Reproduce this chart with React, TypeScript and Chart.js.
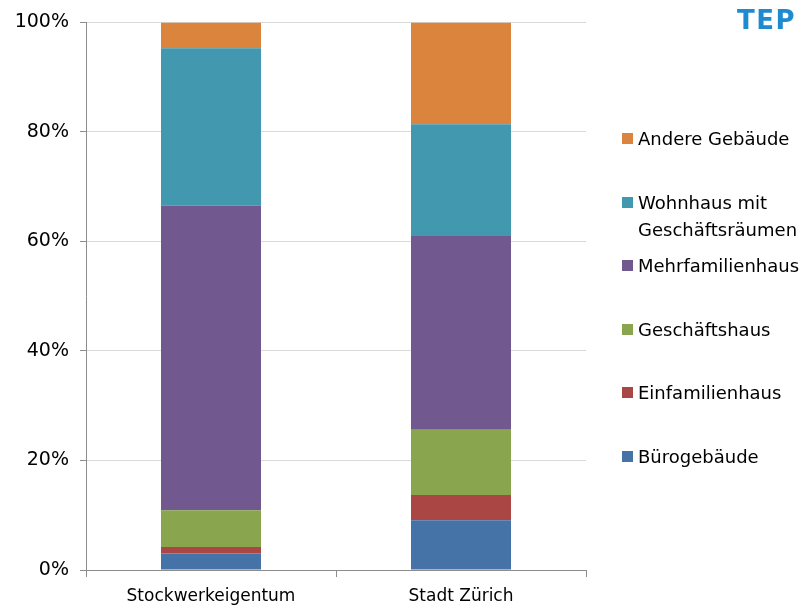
import { useEffect, useRef } from 'react';
import { Chart, registerables } from 'chart.js';

Chart.register(...registerables);

// Share of building types (percent of each column)
const categories = ['Stockwerkeigentum', 'Stadt Zürich'];
const seriesNames = [
  'Bürogebäude',
  'Einfamilienhaus',
  'Geschäftshaus',
  'Mehrfamilienhaus',
  'Wohnhaus mit Geschäftsräumen',
  'Andere Gebäude',
];
const buerogebaeude = [3.0, 9.1];
const einfamilienhaus = [1.2, 4.6];
const geschaeftshaus = [6.7, 11.9];
const mehrfamilienhaus = [55.6, 35.4];
const wohnhausMitGeschaeftsraeumen = [28.8, 20.4];
const andereGebaeude = [4.7, 18.6];
const yTickValues = [0, 20, 40, 60, 80, 100];

const seriesColors = ['#4572A7', '#AA4643', '#89A54E', '#71588F', '#4198AF', '#DB843D'];
const legendLines: string[][] = [
  ['Bürogebäude'],
  ['Einfamilienhaus'],
  ['Geschäftshaus'],
  ['Mehrfamilienhaus'],
  ['Wohnhaus mit', 'Geschäftsräumen'],
  ['Andere Gebäude'],
];

const FONT = '"DejaVu Sans", sans-serif';

export default function App() {
  const canvasRef = useRef<HTMLCanvasElement | null>(null);

  useEffect(() => {
    const canvas = canvasRef.current;
    if (!canvas) return;
    const values = [
      buerogebaeude,
      einfamilienhaus,
      geschaeftshaus,
      mehrfamilienhaus,
      wohnhausMitGeschaeftsraeumen,
      andereGebaeude,
    ];
    const chart = new Chart(canvas, {
      type: 'bar',
      data: {
        labels: categories,
        datasets: values.map((v, i) => ({
          label: seriesNames[i],
          data: v,
          backgroundColor: seriesColors[i],
          borderWidth: 0,
          barPercentage: 0.4,
          categoryPercentage: 1,
        })),
      },
      options: {
        responsive: false,
        animation: false,
        layout: { padding: { left: 0, right: 216, top: 21, bottom: 0 } },
        plugins: {
          legend: { display: false },
          tooltip: { enabled: false },
        },
        scales: {
          x: {
            stacked: true,
            offset: true,
            grid: {
              offset: true,
              drawOnChartArea: false,
              drawTicks: true,
              tickLength: 7,
              color: '#8c8c8c',
            },
            border: { color: '#8c8c8c', width: 1 },
            ticks: {
              color: '#000',
              font: { family: FONT, size: 17 },
              padding: 9,
            },
            afterFit: (s: any) => {
              s.height = 40;
            },
          },
          y: {
            stacked: true,
            min: 0,
            max: 100,
            afterBuildTicks: (s: any) => {
              s.ticks = yTickValues.map((v) => ({ value: v }));
            },
            grid: {
              color: '#d9d9d9',
              tickColor: '#8c8c8c',
              tickLength: 6,
            },
            border: { color: '#8c8c8c', width: 1 },
            ticks: {
              color: '#000',
              font: { family: FONT, size: 19 },
              padding: 11,
              callback: (v: any) => `${v}%`,
            },
            afterFit: (s: any) => {
              s.width = 86;
            },
          },
        },
      },
    });
    return () => chart.destroy();
  }, []);

  const legendItems = legendLines.map((lines, i) => ({ lines, color: seriesColors[i] })).reverse();

  return (
    <div style={{ position: 'fixed', left: 0, top: 0, width: 802, height: 610, background: '#fff' }}>
      <canvas ref={canvasRef} width={802} height={610} style={{ display: 'block' }} />
      <div
        style={{
          position: 'absolute',
          left: 737,
          top: 5,
          fontFamily: FONT,
          fontWeight: 'bold',
          fontSize: 26,
          color: '#1E8BD0',
          letterSpacing: 1.5,
        }}
      >
        TEP
      </div>
      {legendItems.map((item, i) => (
        <div
          key={i}
          style={{
            position: 'absolute',
            left: 622,
            top: 138 + i * 63.6 - 13,
            fontFamily: FONT,
            fontSize: 18,
            lineHeight: '27px',
            color: '#000',
          }}
        >
          <span
            style={{
              position: 'absolute',
              left: 0,
              top: 8,
              width: 11,
              height: 11,
              background: item.color,
            }}
          />
          <div style={{ marginLeft: 16, whiteSpace: 'nowrap' }}>
            {item.lines.map((l, j) => (
              <div key={j}>{l}</div>
            ))}
          </div>
        </div>
      ))}
    </div>
  );
}
